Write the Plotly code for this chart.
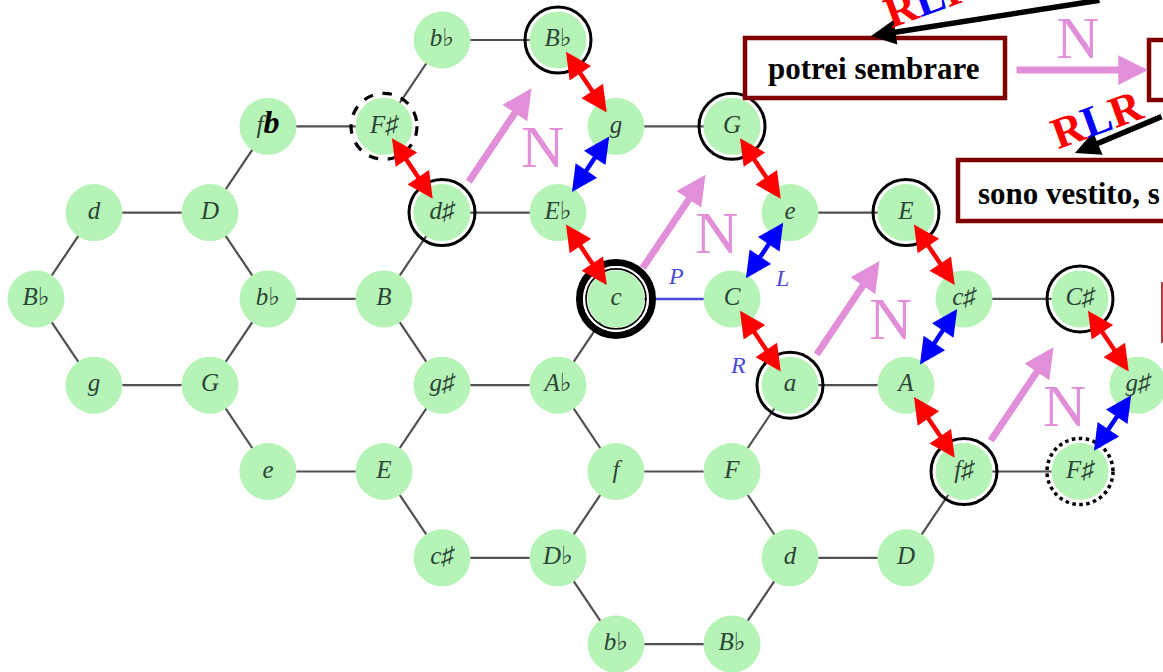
import plotly.graph_objects as go

W, H = 1163, 672

# ---------------- data: Tonnetz nodes (lattice column / row) ----------------
node_keys = ["bb_a", "Bb_a", "fb", "Fs_a", "g_a", "G_a", "d_a", "D_a", "ds", "Eb", "e_a", "E_a",
             "Bb_b", "bb_b", "B", "c", "C", "cs_a", "Cs", "g_b", "G_b", "gs_a", "Ab", "a", "A", "gs_b",
             "e_b", "E_b", "f", "F", "fs", "Fs_b", "cs_b", "Db", "d_b", "D_b", "bb_c", "Bb_c"]
node_labels = ["b♭", "B♭", 'f<span style="color:#000;font-size:32px"><b>b</b></span>', "F♯", "g", "G",
               "d", "D", "d♯", "E♭", "e", "E",
               "B♭", "b♭", "B", "c", "C", "c♯", "C♯", "g", "G", "g♯", "A♭", "a", "A", "g♯",
               "e", "E", "f", "F", "f♯", "F♯", "c♯", "D♭", "d", "D", "b♭", "B♭"]
node_cols = [7, 9, 4, 6, 10, 12, 1, 3, 7, 9, 13, 15,
             0, 4, 6, 10, 12, 16, 18, 1, 3, 7, 9, 13, 15, 19,
             4, 6, 10, 12, 16, 18, 7, 9, 13, 15, 10, 12]
node_rows = [0, 0, 1, 1, 1, 1, 2, 2, 2, 2, 2, 2,
             3, 3, 3, 3, 3, 3, 3, 4, 4, 4, 4, 4, 4, 4,
             5, 5, 5, 5, 5, 5, 6, 6, 6, 6, 7, 7]

lattice_edges = [("bb_a", "Bb_a"), ("bb_a", "Fs_a"), ("fb", "Fs_a"), ("fb", "D_a"), ("d_a", "D_a"),
                 ("d_a", "Bb_b"), ("D_a", "bb_b"), ("Fs_a", "ds"), ("Bb_a", "g_a"), ("g_a", "G_a"),
                 ("g_a", "Eb"), ("ds", "Eb"), ("ds", "B"), ("Eb", "c"), ("G_a", "e_a"), ("e_a", "E_a"),
                 ("bb_b", "B"), ("Bb_b", "g_b"), ("bb_b", "G_b"), ("B", "gs_a"), ("c", "Ab"),
                 ("E_a", "cs_a"), ("cs_a", "Cs"), ("cs_a", "A"), ("Cs", "gs_b"), ("g_b", "G_b"),
                 ("G_b", "e_b"), ("gs_a", "Ab"), ("gs_a", "E_b"), ("Ab", "f"), ("a", "A"), ("a", "F"),
                 ("A", "fs"), ("gs_b", "Fs_b"), ("e_b", "E_b"), ("E_b", "cs_b"), ("f", "F"), ("f", "Db"),
                 ("F", "d_b"), ("fs", "Fs_b"), ("fs", "D_b"), ("cs_b", "Db"), ("Db", "bb_c"),
                 ("d_b", "D_b"), ("d_b", "Bb_c"), ("bb_c", "Bb_c")]
plr_edges = [("c", "C"), ("C", "a"), ("e_a", "C")]

solid_rings = ["Bb_a", "G_a", "ds", "E_a", "a", "fs", "Cs"]
dashed_rings = ["Fs_a"]
dotted_rings = ["Fs_b"]
double_rings = ["c"]

red_moves = [("Fs_a", "ds"), ("Bb_a", "g_a"), ("Eb", "c"), ("G_a", "e_a"), ("C", "a"),
             ("E_a", "cs_a"), ("A", "fs"), ("Cs", "gs_b")]
blue_moves = [("g_a", "Eb"), ("e_a", "C"), ("cs_a", "A"), ("gs_b", "Fs_b")]
n_moves = [("ds", "Bb_a"), ("c", "G_a"), ("a", "E_a"), ("fs", "Cs")]

# ---------------- geometry of the picture ----------------
X0, DX, Y0, DY = 36.0, 58.0, 40.0, 86.3
def ux(px):
    return (px - X0) / DX
def uy(py):
    return (py - Y0) / DY
def pxp(px):
    return px / W
def pyp(py):
    return 1 - py / H

pos = {k: (c, r) for k, c, r in zip(node_keys, node_cols, node_rows)}

GREEN = "#b6f3b6"
RED = "#ff0000"
BLUE = "#0000ff"
PINK = "#e08fd8"
MAROON = "#800000"

fig = go.Figure()

# edges
ex, ey = [], []
for a, b in lattice_edges:
    ex += [pos[a][0], pos[b][0], None]
    ey += [pos[a][1], pos[b][1], None]
fig.add_trace(go.Scatter(x=ex, y=ey, mode="lines", line=dict(color="#505050", width=2.2),
                         hoverinfo="skip"))
bx, by = [], []
for a, b in plr_edges:
    bx += [pos[a][0], pos[b][0], None]
    by += [pos[a][1], pos[b][1], None]
fig.add_trace(go.Scatter(x=bx, y=by, mode="lines", line=dict(color="#4a4ad8", width=2.5),
                         hoverinfo="skip"))

# nodes
fig.add_trace(go.Scatter(x=node_cols, y=node_rows, mode="markers+text", text=node_labels,
                         textposition="middle center",
                         marker=dict(size=57, color=GREEN, line=dict(width=0)),
                         textfont=dict(family="Liberation Serif, DejaVu Serif", size=25,
                                       color="#2b4536", style="italic"),
                         hoverinfo="skip"))

shapes = []
def ring(key, r, width, color="#000", dash="solid"):
    c, rr = pos[key]
    shapes.append(dict(type="circle", xref="x", yref="y", xsizemode="pixel", ysizemode="pixel",
                       xanchor=c, yanchor=rr, x0=-r, x1=r, y0=-r, y1=r,
                       line=dict(color=color, width=width, dash=dash), layer="above"))

for k in solid_rings:
    ring(k, 33, 3)
for k in dashed_rings:
    ring(k, 33, 3.2, dash="dash")
for k in dotted_rings:
    ring(k, 33, 3.5, dash="dot")
for k in double_rings:
    ring(k, 36.5, 7)
    ring(k, 31.8, 2.2, color="#ffffff")
    ring(k, 30, 1.6)

# boxes at the top right
def box(x0, y0, x1, y1):
    shapes.append(dict(type="rect", xref="paper", yref="paper", x0=pxp(x0), x1=pxp(x1),
                       y0=pyp(y1), y1=pyp(y0), line=dict(color=MAROON, width=4.5),
                       fillcolor="#ffffff", layer="above"))
box(745, 38, 1005, 98)
box(1149, 40, 1220, 100)
box(958, 160, 1220, 221)
shapes.append(dict(type="line", xref="paper", yref="paper", x0=pxp(1162), x1=pxp(1162),
                   y0=pyp(282), y1=pyp(343), line=dict(color="#b04040", width=2)))

annotations = []
def arrow(x0, y0, x1, y1, color, width, double, size=1.0, head=2):
    annotations.append(dict(x=x1, y=y1, ax=x0, ay=y0, xref="x", yref="y", axref="x", ayref="y",
                            text="", showarrow=True, arrowhead=head, startarrowhead=head,
                            arrowsize=size, startarrowsize=size, arrowwidth=width,
                            arrowcolor=color, arrowside="end+start" if double else "end",
                            standoff=0, startstandoff=0))

for a, b in red_moves:
    (c0, r0), (c1, r1) = pos[a], pos[b]
    t0, t1 = 0.12, 0.84
    arrow(c0 + (c1 - c0) * t0, r0 + (r1 - r0) * t0, c0 + (c1 - c0) * t1, r0 + (r1 - r0) * t1,
          RED, 4.5, True, 1.15)
for a, b in blue_moves:
    (c0, r0), (c1, r1) = pos[a], pos[b]
    t0, t1 = 0.1, 0.76
    arrow(c0 + (c1 - c0) * t0, r0 + (r1 - r0) * t0, c0 + (c1 - c0) * t1, r0 + (r1 - r0) * t1,
          BLUE, 4.5, True, 1.15)
for a, b in n_moves:
    (c0, r0), (c1, r1) = pos[a], pos[b]
    t0, t1 = 0.17, 0.72
    off = 6 / DX
    arrow(c0 + (c1 - c0) * t0 + off, r0 + (r1 - r0) * t0, c0 + (c1 - c0) * t1 + off,
          r0 + (r1 - r0) * t1, PINK, 7, False, 0.85)
    annotations.append(dict(x=c0 + 100 / DX, y=r0 - 66 / DY, xref="x", yref="y", text="N",
                            showarrow=False, xanchor="center", yanchor="middle",
                            font=dict(family="Liberation Serif", size=60, color=PINK)))

# P, L, R labels
for t, px, py in [("P", 676, 276), ("L", 782, 278), ("R", 738, 365)]:
    annotations.append(dict(x=ux(px), y=uy(py), xref="x", yref="y", text=t, showarrow=False,
                            xanchor="center", yanchor="middle",
                            font=dict(family="Liberation Serif, DejaVu Serif", size=24,
                                      color="#4a4ad8", style="italic")))

# texts in boxes
annotations.append(dict(x=pxp(874), y=pyp(69), xref="paper", yref="paper", text="<b>potrei sembrare</b>",
                        showarrow=False, xanchor="center", yanchor="middle",
                        font=dict(family="Liberation Serif", size=31, color="#000")))
annotations.append(dict(x=pxp(976), y=pyp(193), xref="paper", yref="paper", xanchor="left",
                        yanchor="middle", text="<b>sono vestito, s</b>", showarrow=False,
                        font=dict(family="Liberation Serif", size=31, color="#000")))

# N arrow between boxes
annotations.append(dict(x=pxp(1148), y=pyp(70), xref="paper", yref="paper", ax=-133, ay=0,
                        text="", showarrow=True, arrowhead=2, arrowsize=0.85, arrowwidth=7,
                        arrowcolor=PINK, standoff=0))
annotations.append(dict(x=pxp(1077), y=pyp(38), xref="paper", yref="paper", text="N", showarrow=False,
                        xanchor="center", yanchor="middle",
                        font=dict(family="Liberation Serif", size=60, color=PINK)))

# black RLR arrows
annotations.append(dict(x=pxp(871), y=pyp(36), xref="paper", yref="paper", ax=230, ay=-55,
                        text="", showarrow=True, arrowhead=2, arrowsize=0.9, arrowwidth=5.5,
                        arrowcolor="#000", standoff=0))
annotations.append(dict(x=pxp(1075), y=pyp(153), xref="paper", yref="paper", ax=125, ay=-37,
                        text="", showarrow=True, arrowhead=2, arrowsize=0.9, arrowwidth=5.5,
                        arrowcolor="#000", standoff=0))
rlr = ('<span style="color:#ff0000">R</span><span style="color:#0000ff">L</span>'
       '<span style="color:#ff0000">R</span>')
annotations.append(dict(x=pxp(930), y=pyp(-2), xref="paper", yref="paper", text="<b>" + rlr + "</b>",
                        showarrow=False, textangle=-20, xanchor="center", yanchor="middle",
                        font=dict(family="Liberation Serif", size=44)))
annotations.append(dict(x=pxp(1097), y=pyp(119), xref="paper", yref="paper", text="<b>" + rlr + "</b>",
                        showarrow=False, textangle=-20, xanchor="center", yanchor="middle",
                        font=dict(family="Liberation Serif", size=44)))

fig.update_layout(width=W, height=H, margin=dict(l=0, r=0, t=0, b=0),
                  paper_bgcolor="#ffffff", plot_bgcolor="#ffffff", showlegend=False,
                  xaxis=dict(range=[ux(0), ux(W)], visible=False, fixedrange=True),
                  yaxis=dict(range=[uy(H), uy(0)], visible=False, fixedrange=True),
                  shapes=shapes, annotations=annotations)

fig.write_html("out.html", config={"displayModeBar": False},
               post_script="document.body.style.margin='0px';document.body.style.overflow='hidden';")
